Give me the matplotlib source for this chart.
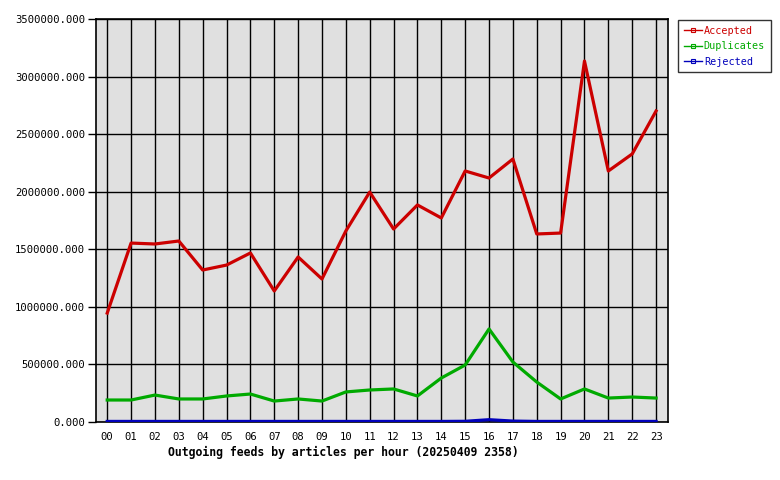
import matplotlib
matplotlib.use('Agg')
import matplotlib.pyplot as plt
from matplotlib.ticker import FuncFormatter

hours = ['%02d' % h for h in range(24)]
accepted = [946000, 1554000, 1546000, 1572000, 1320000, 1363000, 1468000, 1138000,
            1433000, 1242000, 1659000, 1997000, 1676000, 1885000, 1772000, 2180000,
            2119000, 2284000, 1633000, 1641000, 3135000, 2180000, 2328000, 2701000]
duplicates = [191000, 191000, 234000, 200000, 200000, 226000, 243000, 182000,
              200000, 182000, 261000, 278000, 287000, 226000, 382000, 495000,
              808000, 521000, 347000, 200000, 287000, 208000, 217000, 208000]
rejected = [5000, 5000, 5000, 5000, 5000, 5000, 5000, 5000,
            5000, 5000, 5000, 5000, 5000, 5000, 5000, 6000,
            20000, 8000, 5000, 5000, 5000, 5000, 5000, 5000]
y_ticks = [0, 500000, 1000000, 1500000, 2000000, 2500000, 3000000, 3500000]

plt.rcParams['font.family'] = 'DejaVu Sans Mono'

fig = plt.figure(figsize=(7.8, 4.8), dpi=100)
ax = fig.add_axes([96 / 780, 58 / 480, 572 / 780, 403 / 480])
ax.set_facecolor('#e0e0e0')

x = list(range(len(hours)))
l1, = ax.plot(x, accepted, color='#cc0000', linewidth=2.3, label='Accepted', zorder=3)
l2, = ax.plot(x, duplicates, color='#00aa00', linewidth=2.3, label='Duplicates', zorder=3)
l3, = ax.plot(x, rejected, color='#0000bb', linewidth=2.3, label='Rejected', zorder=3)

ax.set_xlim(-0.47, 23.5)
ax.set_ylim(0, 3500000)
ax.set_xticks(x)
ax.set_xticklabels(hours)
ax.set_yticks(y_ticks)
ax.yaxis.set_major_formatter(FuncFormatter(lambda v, p: '%.3f' % v))
ax.grid(True, color='black', linewidth=1.0, zorder=1)
ax.set_axisbelow(True)
ax.tick_params(axis='x', length=0, pad=7, labelsize=7.6)
ax.tick_params(axis='y', length=6, width=1.0, pad=2, labelsize=7.6, direction='out')
for s in ax.spines.values():
    s.set_color('black')
    s.set_linewidth(1.2)

fig.text(343 / 780, 1 - 452 / 480, 'Outgoing feeds by articles per hour (20250409 2358)',
         ha='center', va='center', fontsize=8.3, fontweight='bold')

handles = []
for ln in (l1, l2, l3):
    h, = plt.plot([], [], color=ln.get_color(), linewidth=1, marker='s',
                  markersize=3, markerfacecolor='none', markeredgewidth=0.8)
    handles.append(h)
leg = fig.legend(handles, ['Accepted', 'Duplicates', 'Rejected'],
                 loc='upper left', bbox_to_anchor=(678 / 780, 1 - 20 / 480),
                 fontsize=7.3, frameon=True, fancybox=False, handlelength=1.8,
                 handletextpad=0.2, borderpad=0.55, labelspacing=0.55,
                 borderaxespad=0)
leg.get_frame().set_edgecolor('black')
leg.get_frame().set_linewidth(1)
for txt, ln in zip(leg.get_texts(), (l1, l2, l3)):
    txt.set_color(ln.get_color())

fig.savefig('out.png', dpi=100)
